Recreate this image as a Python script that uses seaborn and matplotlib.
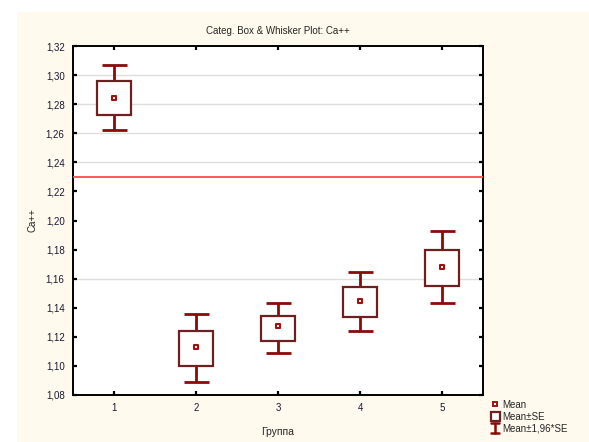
import matplotlib
matplotlib.use("Agg")
import matplotlib.pyplot as plt
import seaborn as sns
import numpy as np
import pandas as pd
from matplotlib.patches import Rectangle, Patch
from matplotlib.lines import Line2D
from matplotlib.legend_handler import HandlerBase

# Data
groups = [1, 2, 3, 4, 5]
means = [1.2845, 1.1130, 1.1272, 1.1445, 1.1678]
se_low = [1.2728, 1.1000, 1.1170, 1.1336, 1.1552]
se_high = [1.2960, 1.1242, 1.1345, 1.1540, 1.1800]
ci_low = [1.2620, 1.0887, 1.1091, 1.1242, 1.1430]
ci_high = [1.3068, 1.1359, 1.1432, 1.1648, 1.1926]
ref_value = 1.23
grid_values = [1.30, 1.28, 1.26, 1.24, 1.16]
yticks = [1.08, 1.10, 1.12, 1.14, 1.16, 1.18, 1.20, 1.22, 1.24, 1.26, 1.28, 1.30, 1.32]
title = "Categ. Box & Whisker Plot: Ca++"
xlabel = "Группа"
ylabel = "Ca++"
legend_labels = ["Mean", "Mean±SE", "Mean±1,96*SE"]

df = pd.DataFrame({"group": groups, "mean": means, "se_low": se_low, "se_high": se_high,
                   "ci_low": ci_low, "ci_high": ci_high})

sns.set_style("white")
plt.rcParams['font.family'] = ['Liberation Sans', 'DejaVu Sans']

fig = plt.figure(figsize=(5.89, 4.42), dpi=100)
fig.patch.set_facecolor("white")
fig.patches.append(Rectangle((17/589, 0), 1 - 17/589, 1 - 12/442, transform=fig.transFigure,
                             facecolor="#FFF9EE", edgecolor="none", zorder=-10))
ax = fig.add_axes([73/589, 1 - 395/442, (483 - 73)/589, (395 - 46)/442])
ax.set_facecolor("white")

box_col = "#6E2020"
whisk_col = "#8B0A0A"
mean_col = "#A01010"

for g in grid_values:
    ax.axhline(g, color="#DEDEDE", lw=1.0, zorder=0)

# whiskers
yerr = np.array([df["mean"] - df["ci_low"], df["ci_high"] - df["mean"]])
eb = ax.errorbar(df["group"], df["mean"], yerr=yerr, fmt="none", ecolor=whisk_col,
                 elinewidth=2.0, capsize=9, capthick=2.0, zorder=2, label=legend_labels[2])
# SE boxes
bars = ax.bar(df["group"], df["se_high"] - df["se_low"], bottom=df["se_low"], width=0.41,
              facecolor="white", edgecolor=box_col, linewidth=1.6, zorder=3, label=legend_labels[1])
# means
sns.scatterplot(data=df, x="group", y="mean", marker="s", s=11, facecolor="white",
                edgecolor=mean_col, linewidth=1.5, zorder=4, ax=ax, legend=False)

ax.axhline(ref_value, color="#FF4A4A", lw=1.3, zorder=5)

ax.set_xlim(0.5, 5.5)
ax.set_ylim(1.08, 1.32)
ax.set_xticks(groups)
ax.set_xticklabels([str(g) for g in groups])
ax.set_yticks(yticks)
ax.set_yticklabels([f"{v:.2f}".replace(".", ",") for v in yticks])
ax.tick_params(axis="both", direction="in", length=3, width=1.6, color="black",
               labelsize=7, top=True, right=True, left=True, bottom=True, pad=6,
               labelcolor="#1A1A30")
for s in ax.spines.values():
    s.set_visible(True)
    s.set_color("black")
    s.set_linewidth(1.4)

ax.set_xlabel(xlabel, fontsize=7.5, labelpad=10)
ax.set_ylabel(ylabel, fontsize=7, labelpad=6)
ax.set_title(title, fontsize=7, pad=9)


class IBeamHandle:
    pass


class HandlerIBeam(HandlerBase):
    def create_artists(self, legend, orig_handle, xdescent, ydescent, width, height,
                       fontsize, trans):
        cx = width / 2 - xdescent
        y0 = -ydescent
        y1 = height - ydescent
        hw = width * 0.45
        lines = [
            Line2D([cx, cx], [y0, y1], color=whisk_col, lw=1.8),
            Line2D([cx - hw, cx + hw], [y0, y0], color=whisk_col, lw=1.8),
            Line2D([cx - hw, cx + hw], [y1, y1], color=whisk_col, lw=1.8),
        ]
        for l in lines:
            l.set_transform(trans)
        return lines


mean_h = Line2D([], [], marker="s", ls="", mfc="white", mec=mean_col, mew=1.4, ms=3.5)
se_h = Patch(facecolor="white", edgecolor=box_col, linewidth=1.6)
ib_h = IBeamHandle()
fig.legend([mean_h, se_h, ib_h], legend_labels, loc="upper left",
           bbox_to_anchor=(484/589, 1 - 393/442), frameon=False, fontsize=7,
           handlelength=0.9, handleheight=1.2, handletextpad=0.3, labelspacing=0.15,
           borderpad=0.2, handler_map={IBeamHandle: HandlerIBeam()})

fig.savefig("out.png", dpi=100, facecolor=fig.get_facecolor())
